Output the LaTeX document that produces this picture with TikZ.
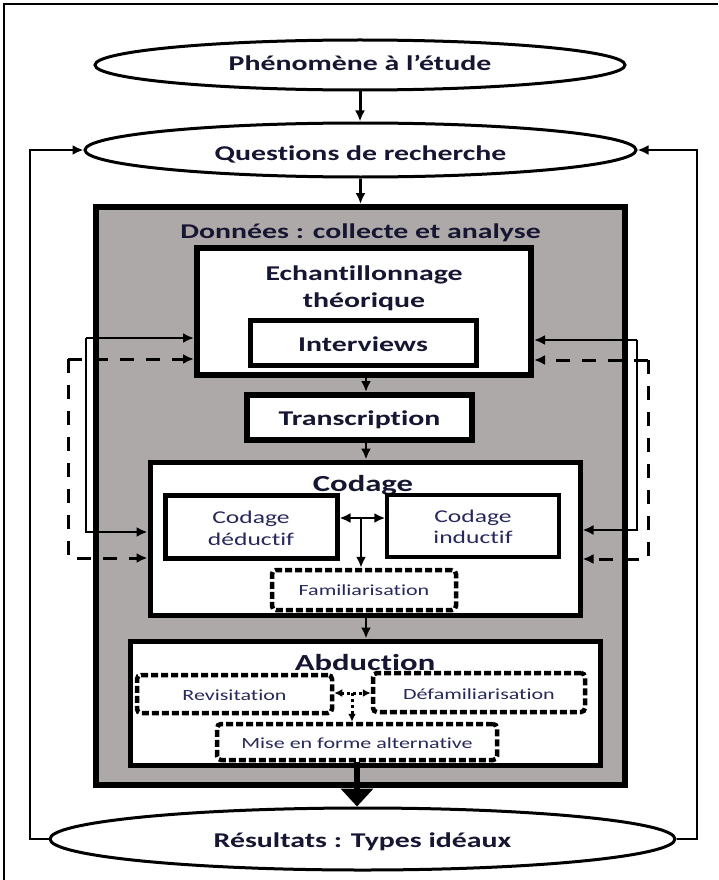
\documentclass[tikz,border=0pt]{standalone}
\usepackage{fontspec}
\setmainfont{Carlito}
\newfontfamily\strfont[FakeStretch=1.42,Ligatures=NoCommon]{Carlito}
\usetikzlibrary{arrows.meta,shapes.geometric}
\definecolor{boxgray}{RGB}{173,169,169}
\definecolor{txtb}{RGB}{22,22,50}
\definecolor{txtr}{RGB}{40,40,90}
\tikzset{
  ell/.style={draw, ellipse, line width=3, fill=white, inner sep=0},
  graybox/.style={draw, line width=6, fill=boxgray, inner sep=0},
  wbox/.style={draw, line width=5, fill=white, inner sep=0},
  dotbox/.style={draw, line width=4.5, dash pattern=on 7pt off 3pt, rounded corners=4, fill=white, inner sep=0},
  arr/.style={-{Latex[length=11pt,width=10pt]}, line width=2.6},
  darr/.style={{Latex[length=11pt,width=10pt]}-{Latex[length=11pt,width=10pt]}, line width=2.6},
  dasharr/.style={-{Latex[length=11pt,width=10pt]}, line width=3, dash pattern=on 14pt off 12pt},
  dotarr/.style={{Latex[length=8pt,width=8pt]}-{Latex[length=8pt,width=8pt]}, line width=3, dash pattern=on 3pt off 3pt},
  dotarrone/.style={-{Latex[length=8pt,width=8pt]}, line width=3, dash pattern=on 3pt off 3pt},
  bigarr/.style={-{Triangle[length=18pt,width=32pt]}, line width=5.5},
  lblb/.style={anchor=base, inner sep=0, text=txtb, font=\strfont\bfseries\fontsize{21}{24}\selectfont},
  lblh/.style={anchor=base, inner sep=0, text=txtb, font=\strfont\bfseries\fontsize{23}{26}\selectfont},
  lblr/.style={anchor=base, inner sep=0, text=txtr, font=\strfont\fontsize{18}{21}\selectfont},
  lbls/.style={anchor=base, inner sep=0, text=txtr, font=\strfont\fontsize{15.5}{18}\selectfont},
}
\begin{document}
\begin{tikzpicture}[x=1pt,y=-1pt]
\useasboundingbox (0,0) rectangle (718,880);
% outer frame
\draw[line width=2] (4,880) -- (4,4) -- (718,4);

% ellipses
\node[ell, minimum width=530, minimum height=50] (phen) at (360,65) {};
\node[lblb] (phent) at (360,71) {Phénomène à l’étude};
\node[ell, minimum width=551, minimum height=54] (qr) at (360.5,150) {};
\node[lblb] (qrt) at (360.5,160) {Questions de recherche};

% gray box
\node[graybox, minimum width=529, minimum height=578] (gray) at (360.5,496) {};
\node[lblb] (grayt) at (360.5,238) {Données : collecte et analyse};

% echantillonnage
\node[wbox, line width=6, minimum width=334, minimum height=127] (ech) at (364,311.5) {};
\node[lblb] (echt1) at (364,280) {Echantillonnage};
\node[lblb] (echt2) at (364,307) {théorique};
\node[wbox, minimum width=226, minimum height=45] (int) at (363,342.5) {};
\node[lblb] (intt) at (363,351) {Interviews};

% transcription
\node[wbox, line width=6, minimum width=225, minimum height=45] (tr) at (359.5,417.5) {};
\node[lblb] (trt) at (359.5,425) {Transcription};

% codage
\node[wbox, minimum width=430, minimum height=153] (cod) at (365,538.5) {};
\node[lblh] (codt) at (363,491) {Codage};
\node[wbox, minimum width=172, minimum height=63] (ded) at (251,526.5) {};
\node[lblr] (dedt1) at (251,523) {Codage};
\node[lblr] (dedt2) at (251,545) {déductif};
\node[wbox, line width=3.5, minimum width=172, minimum height=62] (ind) at (473,526) {};
\node[lblr] (indt1) at (473,522) {Codage};
\node[lblr] (indt2) at (473,543) {inductif};
\node[dotbox, minimum width=184, minimum height=40] (fam) at (364,590) {};
\node[lbls] (famt) at (364,595) {Familiarisation};

% abduction
\node[wbox, minimum width=470, minimum height=124] (abd) at (365,703) {};
\node[lblh] (abdt) at (365,670) {Abduction};
\node[dotbox, minimum width=195, minimum height=38] (rev) at (234.5,694) {};
\node[lbls] (revt) at (234.5,700.5) {Revisitation};
\node[dotbox, minimum width=212, minimum height=39] (def) at (479,692.5) {};
\node[lbls] (deft) at (479,699) {Défamiliarisation};
\node[dotbox, minimum width=280, minimum height=36] (mise) at (357,742) {};
\node[lbls] (miset) at (357,748) {Mise en forme alternative};

% results
\node[ell, minimum width=625, minimum height=62] (res) at (362.5,839) {};
\node[lblb] (rest) at (362.5,847) {Résultats : Types idéaux};

% main flow arrows
\draw[arr, line width=3] (phen.south) -- (phen.south |- qr.north);
\draw[arr, line width=3] (qr.south) -- (qr.south |- gray.north);
\draw[arr] (ech.south -| 366,0) -- (tr.north -| 366,0);
\draw[arr] (tr.south -| 366,0) -- (cod.north -| 366,0);
\draw[arr] (cod.south -| 366,0) -- (abd.north -| 366,0);
\draw[darr] (ded.east |- 0,518) -- (ind.west |- 0,518);
\coordinate (cj) at (361,518);
\draw[arr] (cj) -- (cj |- fam.north);
\draw[dotarr] (rev.east |- 0,693) -- (def.west |- 0,693);
\coordinate (aj) at (352,693);
\draw[dotarrone] (aj) -- (aj |- mise.north);
\draw[bigarr] (mise.south) -- (mise.south |- res.north);

% outer feedback loops
\draw[arr] (res.west) -- (30,839) |- (qr.west);
\draw[arr] (res.east) -- (697,839) |- (qr.east);

% inner solid feedback
\coordinate (lt) at (86,338);
\coordinate (lb) at (86,532);
\draw[arr] (lt) -- (ech.west |- lt);
\draw[arr] (lt) -- (lb) -- (cod.west |- lb);
\coordinate (rt) at (637,340);
\coordinate (rb) at (637,530);
\draw[arr] (rt) -- (ech.east |- rt);
\draw[arr] (rt) -- (rb) -- (cod.east |- rb);

% inner dashed feedback
\coordinate (dlt) at (68,359);
\coordinate (dlb) at (68,558);
\draw[dasharr] (dlt) -- (ech.west |- dlt);
\draw[dasharr] (dlt) -- (dlb) -- (cod.west |- dlb);
\coordinate (drt) at (648,360);
\coordinate (drb) at (648,559);
\draw[dasharr] (drt) -- (ech.east |- drt);
\draw[dasharr] (drt) -- (drb) -- (cod.east |- drb);
\end{tikzpicture}
\end{document}
